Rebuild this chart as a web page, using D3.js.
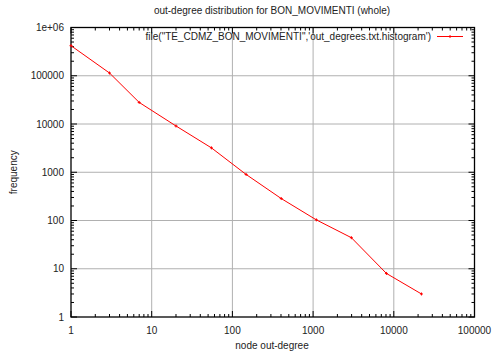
<!DOCTYPE html>
<html>
<head>
<meta charset="utf-8">
<script src="https://cdn.jsdelivr.net/npm/d3@7"></script>
<style>
body { margin: 0; background: #fff; }
text { font-family: "Liberation Sans", Arial, sans-serif; font-size: 10px; fill: #222; }
</style>
</head>
<body>
<div id="chart"></div>
<script>
// data
const degrees = [1, 3, 7, 20, 55, 148, 403, 1097, 2981, 8103, 22026];
const counts = [420000, 114000, 28000, 9100, 3200, 900, 285, 103, 44, 8, 3];
const xTicks = [1, 10, 100, 1000, 10000, 100000];
const yTicks = [1, 10, 100, 1000, 10000, 100000, 1000000];
const title = 'out-degree distribution for BON_MOVIMENTI (whole)';
const legendLabel = 'file("TE_CDMZ_BON_MOVIMENTI",\'out_degrees.txt.histogram\')';

const width = 495, height = 352;
const margin = {top: 27.5, right: 20.5, bottom: 35, left: 71};
const w = width - margin.left - margin.right;
const h = height - margin.top - margin.bottom;

const svg = d3.select('#chart').append('svg')
    .attr('width', width).attr('height', height);

const x = d3.scaleLog().domain([1, 100000]).range([0, w]);
const y = d3.scaleLog().domain([1, 1000000]).range([h, 0]);

const chart = svg.append('g')
    .attr('transform', `translate(${margin.left},${margin.top})`);

// grid
chart.append('g').selectAll('line').data(xTicks.slice(1, -1)).join('line')
    .attr('x1', d => x(d)).attr('x2', d => x(d))
    .attr('y1', 0).attr('y2', h)
    .attr('stroke', '#b0b0b0').attr('stroke-width', 1);
chart.append('g').selectAll('line').data(yTicks.slice(1, -1)).join('line')
    .attr('y1', d => y(d)).attr('y2', d => y(d))
    .attr('x1', 0).attr('x2', w)
    .attr('stroke', '#b0b0b0').attr('stroke-width', 1);

// minor ticks (log), inside, on all four sides
const minorX = [], minorY = [];
for (let e = 0; e < 5; e++) for (let k = 2; k < 10; k++) minorX.push(k * 10 ** e);
for (let e = 0; e < 6; e++) for (let k = 2; k < 10; k++) minorY.push(k * 10 ** e);
const ticks = chart.append('g').attr('stroke', '#000').attr('stroke-width', 1);
minorX.forEach(d => {
    ticks.append('line').attr('x1', x(d)).attr('x2', x(d)).attr('y1', h).attr('y2', h - 3);
    ticks.append('line').attr('x1', x(d)).attr('x2', x(d)).attr('y1', 0).attr('y2', 3);
});
xTicks.forEach(d => {
    ticks.append('line').attr('x1', x(d)).attr('x2', x(d)).attr('y1', h).attr('y2', h - 6);
    ticks.append('line').attr('x1', x(d)).attr('x2', x(d)).attr('y1', 0).attr('y2', 6);
});
minorY.forEach(d => {
    ticks.append('line').attr('y1', y(d)).attr('y2', y(d)).attr('x1', 0).attr('x2', 3);
    ticks.append('line').attr('y1', y(d)).attr('y2', y(d)).attr('x1', w).attr('x2', w - 3);
});
yTicks.forEach(d => {
    ticks.append('line').attr('y1', y(d)).attr('y2', y(d)).attr('x1', 0).attr('x2', 6);
    ticks.append('line').attr('y1', y(d)).attr('y2', y(d)).attr('x1', w).attr('x2', w - 6);
});

// tick labels
chart.append('g').selectAll('text').data(xTicks).join('text')
    .attr('x', d => x(d)).attr('y', h + 17)
    .attr('text-anchor', 'middle')
    .text(d => d3.format('d')(d));
chart.append('g').selectAll('text').data(yTicks).join('text')
    .attr('x', -7).attr('y', d => y(d)).attr('dy', '0.35em')
    .attr('text-anchor', 'end')
    .text(d => d === 1000000 ? '1e+06' : d3.format('d')(d));

// border
chart.append('rect').attr('width', w).attr('height', h)
    .attr('fill', 'none').attr('stroke', '#000').attr('stroke-width', 1.3);

// series
const line = d3.line().x((d, i) => x(degrees[i])).y(d => y(d));
chart.append('path').datum(counts)
    .attr('d', line).attr('fill', 'none')
    .attr('stroke', '#ff0000').attr('stroke-width', 1);
const marks = chart.append('g').attr('stroke', '#ff0000').attr('stroke-width', 1);
counts.forEach((d, i) => {
    const cx = x(degrees[i]), cy = y(d);
    marks.append('line').attr('x1', cx - 1.5).attr('x2', cx + 1.5).attr('y1', cy).attr('y2', cy);
    marks.append('line').attr('x1', cx).attr('x2', cx).attr('y1', cy - 1.5).attr('y2', cy + 1.5);
});

// legend
const ly = 9;
chart.append('text').attr('x', 360).attr('y', ly).attr('dy', '0.35em')
    .attr('text-anchor', 'end').text(legendLabel);
chart.append('line').attr('x1', 366).attr('x2', 392).attr('y1', ly).attr('y2', ly)
    .attr('stroke', '#ff0000').attr('stroke-width', 1);
chart.append('line').attr('x1', 377.5).attr('x2', 380.5).attr('y1', ly).attr('y2', ly)
    .attr('stroke', '#ff0000');
chart.append('line').attr('x1', 379).attr('x2', 379).attr('y1', ly - 1.5).attr('y2', ly + 1.5)
    .attr('stroke', '#ff0000');

// titles
svg.append('text').attr('x', 272).attr('y', 14)
    .attr('text-anchor', 'middle').text(title);
svg.append('text').attr('x', 272).attr('y', 349)
    .attr('text-anchor', 'middle').text('node out-degree');
svg.append('text').attr('transform', `translate(17,${margin.top + h / 2}) rotate(-90)`)
    .attr('text-anchor', 'middle').text('frequency');
</script>
</body>
</html>
